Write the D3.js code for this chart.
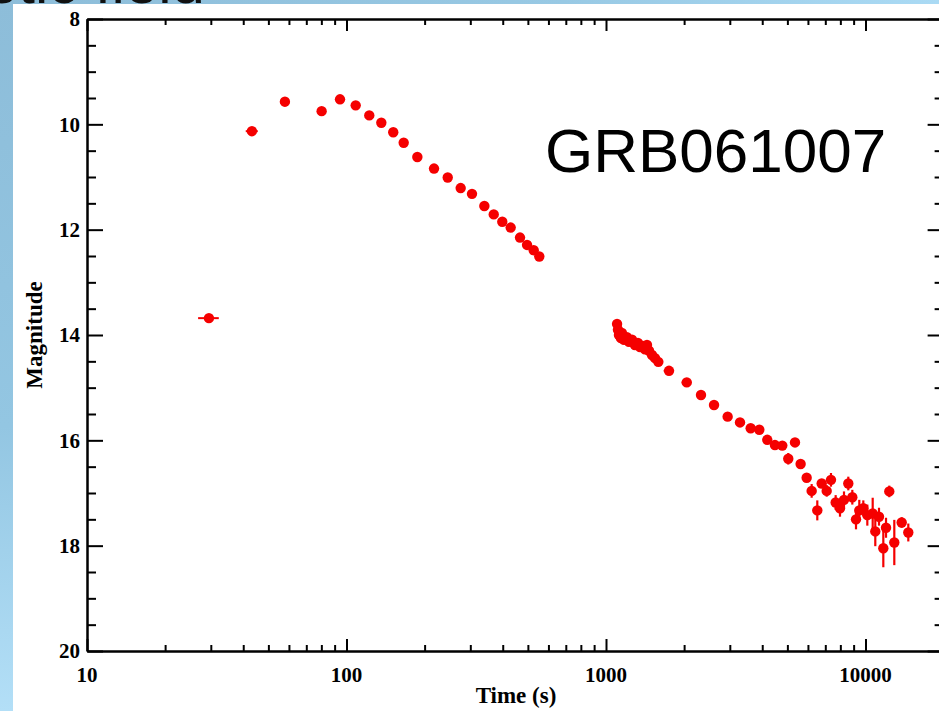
<!DOCTYPE html>
<html>
<head>
<meta charset="utf-8">
<script src="https://cdn.jsdelivr.net/npm/d3@7"></script>
<style>
  html, body { margin: 0; padding: 0; background: #9ccbe6; overflow: hidden; }
  svg { display: block; }
</style>
</head>
<body>
<svg id="chart" width="939" height="711"></svg>
<script>
// ---------------- data ----------------
const label = "GRB061007";
const xTitle = "Time (s)";
const yTitle = "Magnitude";
const slideTitle = "Magnetic field";

const xMajorTicks = [10, 100, 1000, 10000];
const xTickLabels = ["10", "100", "1000", "10000"];
const yMajorTicks = [8, 10, 12, 14, 16, 18, 20];
const yTickLabels = ["8", "10", "12", "14", "16", "18", "20"];

const time = [
  29.5, 43.2, 57.9, 80.2, 94.4, 108.5, 122.4, 136.2, 151.4, 166.1, 187.5, 217.4,
  245.5, 275.4, 304.5, 339.8, 369.3, 398.4, 429.2, 466.3, 496.3, 526.5, 553.3,
  1103, 1112, 1122, 1142, 1152, 1173, 1204, 1226, 1260, 1293, 1328, 1352, 1388,
  1413, 1439, 1465, 1504, 1545,
  1591, 1749, 2047, 2323, 2608, 2943, 3284, 3610, 3898, 4183, 4477, 4779,
  5040, 5349, 5623, 5933, 6202, 6520, 6779, 7087, 7362, 7674, 7975, 8263, 8585,
  8896, 9192, 9465, 9808, 10163, 10659, 10908, 11272, 11713, 11997, 12350, 12912,
  13787, 14620
];
const mag = [
  13.68, 10.13, 9.57, 9.75, 9.525, 9.64, 9.83, 9.97, 10.15, 10.35, 10.62, 10.84,
  11.01, 11.21, 11.32, 11.55, 11.71, 11.85, 11.96, 12.15, 12.29, 12.39, 12.51,
  13.79, 13.90, 14.00, 14.06, 13.96, 14.09, 14.04, 14.13, 14.09, 14.19, 14.15, 14.23, 14.21,
  14.27, 14.19, 14.30, 14.38, 14.44,
  14.51, 14.68, 14.90, 15.14, 15.33, 15.55, 15.66, 15.77, 15.80, 15.99, 16.09, 16.10,
  16.35, 16.04, 16.45, 16.71, 16.96, 17.33, 16.82, 16.96, 16.75, 17.18, 17.29, 17.13, 16.82,
  17.08, 17.50, 17.33, 17.29, 17.42, 17.39, 17.73, 17.45, 18.05, 17.66, 16.97, 17.94,
  17.56, 17.75
];
const magErr = [
  0.03, 0.03, 0.03, 0.03, 0.03, 0.03, 0.03, 0.03, 0.03, 0.03, 0.03, 0.03,
  0.03, 0.03, 0.03, 0.03, 0.03, 0.03, 0.03, 0.03, 0.03, 0.03, 0.03,
  0.05, 0.05, 0.05, 0.05, 0.05, 0.05, 0.05, 0.05, 0.05, 0.05, 0.05, 0.05, 0.05,
  0.05, 0.05, 0.05, 0.05, 0.05,
  0.04, 0.04, 0.04, 0.04, 0.04, 0.04, 0.04, 0.05, 0.05, 0.05, 0.05, 0.05,
  0.11, 0.06, 0.08, 0.08, 0.13, 0.19, 0.08, 0.11, 0.13, 0.14, 0.16, 0.16, 0.13,
  0.14, 0.19, 0.20, 0.15, 0.20, 0.30, 0.28, 0.17, 0.36, 0.19, 0.11, 0.43,
  0.10, 0.17
];
const timeErr = [
  2.7, 2.3, 0, 0, 0, 0, 0, 0, 0, 0, 0, 0,
  0, 0, 0, 0, 0, 0, 0, 0, 0, 0, 0,
  0, 0, 0, 0, 0, 0, 0, 0, 0, 0, 0, 0, 0,
  0, 0, 0, 0, 0,
  60, 80, 90, 100, 0, 110, 0, 0, 0, 0, 0, 0,
  0, 0, 0, 0, 0, 0, 0, 0, 0, 0, 0, 0, 0,
  0, 0, 0, 0, 0, 0, 0, 0, 0, 0, 0, 0,
  0, 0
];

// ---------------- layout ----------------
const svg = d3.select("#chart");
const W = 939, H = 711;
const plotLeft = 87, plotTop = 19, plotBottom = 651;
const decadePx = 259.5;

const x = d3.scaleLog().domain([10, 20000]).range([plotLeft, plotLeft + decadePx * Math.log10(2000)]);
const y = d3.scaleLinear().domain([8, 20]).range([plotTop, plotBottom]);

// background (slide)
const defs = svg.append("defs");
const g1 = defs.append("linearGradient").attr("id", "bg").attr("x1", 0).attr("y1", 0).attr("x2", 0).attr("y2", 1);
g1.append("stop").attr("offset", "0").attr("stop-color", "#8dbdd9");
g1.append("stop").attr("offset", "0.6").attr("stop-color", "#93c6e2");
g1.append("stop").attr("offset", "1").attr("stop-color", "#b3dff7");
const g2 = defs.append("linearGradient").attr("id", "bgtop").attr("x1", 0).attr("y1", 0).attr("x2", 1).attr("y2", 0);
g2.append("stop").attr("offset", "0").attr("stop-color", "#8dbdd9");
g2.append("stop").attr("offset", "0.6").attr("stop-color", "#98c9e4");
g2.append("stop").attr("offset", "1").attr("stop-color", "#aadaf4");
defs.append("clipPath").attr("id", "topStrip")
  .append("rect").attr("x", 0).attr("y", 0).attr("width", W).attr("height", 4);
svg.append("rect").attr("x", 0).attr("y", 0).attr("width", W).attr("height", H).attr("fill", "url(#bg)");
svg.append("rect").attr("x", 0).attr("y", 0).attr("width", W).attr("height", 5).attr("fill", "url(#bgtop)");

svg.append("g").attr("clip-path", "url(#topStrip)")
  .append("text")
  .attr("x", 205).attr("y", 3)
  .attr("text-anchor", "end")
  .attr("font-family", "Liberation Sans, Arial, sans-serif")
  .attr("font-size", 60)
  .attr("fill", "#111")
  .text(slideTitle);

// white panel
svg.append("rect").attr("x", 13).attr("y", 4).attr("width", W - 13).attr("height", H - 4).attr("fill", "#ffffff");

// ---------------- axes ----------------
const xMinor = [];
xMajorTicks.forEach(d => { for (let k = 2; k <= 9; k++) { if (d * k < 20000) xMinor.push(d * k); } });
const yMinor = d3.range(8, 20.01, 0.5).filter(v => !yMajorTicks.includes(v));

function styleAxis(g) {
  g.selectAll("path.domain").attr("stroke", "#000").attr("stroke-width", 2);
  g.selectAll(".tick line").attr("stroke", "#000").attr("stroke-width", 2);
  g.selectAll(".tick text").remove();
}

const xr = x.range()[1];
// bottom
svg.append("g").attr("transform", `translate(0,${plotBottom})`)
  .call(d3.axisTop(x).tickValues(xMajorTicks).tickSize(12).tickSizeOuter(0).tickFormat(""))
  .call(styleAxis);
svg.append("g").attr("transform", `translate(0,${plotBottom})`)
  .call(d3.axisTop(x).tickValues(xMinor).tickSize(6).tickSizeOuter(0).tickFormat(""))
  .call(styleAxis);
// top
svg.append("g").attr("transform", `translate(0,${plotTop})`)
  .call(d3.axisBottom(x).tickValues(xMajorTicks).tickSize(12).tickSizeOuter(0).tickFormat(""))
  .call(styleAxis);
svg.append("g").attr("transform", `translate(0,${plotTop})`)
  .call(d3.axisBottom(x).tickValues(xMinor).tickSize(6).tickSizeOuter(0).tickFormat(""))
  .call(styleAxis);
// left
svg.append("g").attr("transform", `translate(${plotLeft},0)`)
  .call(d3.axisRight(y).tickValues(yMajorTicks).tickSize(16).tickSizeOuter(0).tickFormat(""))
  .call(styleAxis);
svg.append("g").attr("transform", `translate(${plotLeft},0)`)
  .call(d3.axisRight(y).tickValues(yMinor).tickSize(9).tickSizeOuter(0).tickFormat(""))
  .call(styleAxis);
// right
svg.append("g").attr("transform", `translate(${xr},0)`)
  .call(d3.axisLeft(y).tickValues(yMajorTicks).tickSize(16).tickSizeOuter(0).tickFormat(""))
  .call(styleAxis);
svg.append("g").attr("transform", `translate(${xr},0)`)
  .call(d3.axisLeft(y).tickValues(yMinor).tickSize(9).tickSizeOuter(0).tickFormat(""))
  .call(styleAxis);

// tick labels
const labelFont = "Liberation Serif, Times New Roman, serif";
svg.append("g").selectAll("text").data(xMajorTicks).join("text")
  .attr("x", d => x(d)).attr("y", 682)
  .attr("text-anchor", "middle")
  .attr("font-family", labelFont).attr("font-weight", "bold").attr("font-size", 21)
  .attr("fill", "#000")
  .text((d, i) => xTickLabels[i]);
svg.append("g").selectAll("text").data(yMajorTicks).join("text")
  .attr("x", 80).attr("y", d => y(d)).attr("dy", "0.35em")
  .attr("text-anchor", "end")
  .attr("font-family", labelFont).attr("font-weight", "bold").attr("font-size", 21)
  .attr("fill", "#000")
  .text((d, i) => yTickLabels[i]);

// axis titles
svg.append("text")
  .attr("x", 516).attr("y", 703)
  .attr("text-anchor", "middle")
  .attr("font-family", labelFont).attr("font-weight", "bold").attr("font-size", 23)
  .text(xTitle);
svg.append("text")
  .attr("transform", `translate(42,${(plotTop + plotBottom) / 2}) rotate(-90)`)
  .attr("text-anchor", "middle")
  .attr("font-family", labelFont).attr("font-weight", "bold").attr("font-size", 23)
  .text(yTitle);

// ---------------- data marks ----------------
const pts = time.map((t, i) => ({ t, m: mag[i], me: magErr[i], te: timeErr[i] }));
const red = "#f50000";
const marks = svg.append("g");
marks.selectAll("line.v").data(pts).join("line").attr("class", "v")
  .attr("x1", d => x(d.t)).attr("x2", d => x(d.t))
  .attr("y1", d => y(d.m - d.me)).attr("y2", d => y(d.m + d.me))
  .attr("stroke", red).attr("stroke-width", 2.2);
marks.selectAll("line.h").data(pts.filter(d => d.te > 0)).join("line").attr("class", "h")
  .attr("x1", d => x(d.t - d.te)).attr("x2", d => x(d.t + d.te))
  .attr("y1", d => y(d.m)).attr("y2", d => y(d.m))
  .attr("stroke", red).attr("stroke-width", 2);
marks.selectAll("circle").data(pts).join("circle")
  .attr("cx", d => x(d.t)).attr("cy", d => y(d.m)).attr("r", 5.2)
  .attr("fill", red);

// label
svg.append("text")
  .attr("x", 545).attr("y", 172)
  .attr("font-family", "Liberation Sans, Arial, sans-serif")
  .attr("font-size", 62)
  .attr("fill", "#000")
  .text(label);
</script>
</body>
</html>
